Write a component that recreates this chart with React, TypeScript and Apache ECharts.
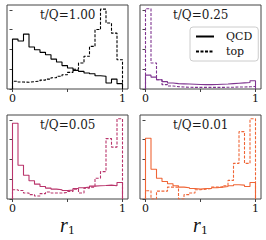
import React, { useEffect, useRef } from 'react';
import * as echarts from 'echarts';

// Histogram values (20 equal bins on [0, 1])
const qcd100 = [2.52, 2.42, 2.77, 2.12, 1.98, 1.85, 1.73, 1.51, 1.36, 1.18, 1.06, 0.94, 0.89, 0.81, 0.77, 0.67, 0.64, 0.3, 0.5, 0.27];
const top100 = [0.39, 0.35, 0.34, 0.37, 0.4, 0.45, 0.5, 0.57, 0.64, 0.72, 0.84, 1.0, 1.31, 1.65, 2.15, 3.0, 4.03, 3.33, 2.82, 1.48];
const qcd025 = [0.7, 0.6, 0.47, 0.37, 0.3, 0.27, 0.26, 0.25, 0.24, 0.23, 0.22, 0.22, 0.23, 0.24, 0.25, 0.27, 0.29, 0.31, 0.33, 0.42];
const top025 = [4.05, 1.31, 0.47, 0.22, 0.15, 0.12, 0.1, 0.09, 0.08, 0.08, 0.08, 0.08, 0.08, 0.08, 0.09, 0.09, 0.1, 0.1, 0.11, 0.13];
const qcd005 = [3.82, 1.7, 1.2, 0.92, 0.75, 0.63, 0.55, 0.5, 0.47, 0.43, 0.45, 0.53, 0.57, 0.6, 0.65, 0.67, 0.68, 0.7, 0.67, 0.83];
const top005 = [0.47, 0.43, 0.3, 0.22, 0.15, 0.27, 0.35, 0.3, 0.3, 0.33, 0.38, 0.5, 0.3, 0.55, 0.6, 1.05, 1.38, 3.05, 2.62, 4.05];
const qcd001 = [3.07, 1.5, 1.05, 0.88, 0.77, 0.67, 0.6, 0.57, 0.53, 0.5, 0.53, 0.53, 0.57, 0.6, 0.63, 0.67, 0.72, 0.7, 0.63, 0.83];
const top001 = [0.42, 0.0, 0.4, 0.4, 0.6, 0.6, 0.0, 0.22, 0.3, 0.47, 0.5, 0.53, 0.6, 0.6, 0.67, 0.94, 1.8, 3.4, 1.8, 4.05];

const panelTitles = ['t/Q=1.00', 't/Q=0.25', 't/Q=0.05', 't/Q=0.01'];
const panelColors = ['#000000', '#7f3590', '#b9346b', '#ef6536'];
const qcdSeries = [qcd100, qcd025, qcd005, qcd001];
const topSeries = [top100, top025, top005, top001];
const xTickValues = [0, 0.5, 1];
const xLabelValues = [0, 1];
const yTickValues = [0, 1, 2, 3, 4];
const legendNames = ['QCD', 'top'];

const SERIF = 'DejaVu Serif';

function stepPoints(vals: number[]): number[][] {
  const w = 1 / vals.length;
  const pts: number[][] = [[0, 0]];
  vals.forEach((v, i) => {
    pts.push([i * w, v]);
    pts.push([(i + 1) * w, v]);
  });
  pts.push([1, 0]);
  return pts;
}

const grids = [
  { left: 7, top: 5, width: 121, height: 84 },
  { left: 140, top: 5, width: 121, height: 84 },
  { left: 7, top: 115, width: 121, height: 84 },
  { left: 140, top: 115, width: 121, height: 84 },
];

export default function App() {
  const ref = useRef<HTMLDivElement>(null);
  useEffect(() => {
    document.body.style.margin = '0';
    const chart = echarts.init(ref.current!, undefined, { renderer: 'svg' });
    const series: any[] = [];
    for (let i = 0; i < 4; i++) {
      const c = panelColors[i];
      series.push({
        type: 'line',
        name: i === 0 ? legendNames[0] : `QCD ${panelTitles[i]}`,
        xAxisIndex: i,
        yAxisIndex: i,
        data: stepPoints(qcdSeries[i]),
        showSymbol: false,
        symbol: 'none',
        color: c,
        lineStyle: { color: c, width: 1.1, type: 'solid' },
        z: 3,
      });
      series.push({
        type: 'line',
        name: i === 0 ? legendNames[1] : `top ${panelTitles[i]}`,
        xAxisIndex: i,
        yAxisIndex: i,
        data: stepPoints(topSeries[i]),
        showSymbol: false,
        symbol: 'none',
        color: c,
        lineStyle: { color: c, width: 1.1, type: [3, 1.5] },
        z: 2,
      });
    }
    const option: any = {
      animation: false,
      backgroundColor: '#ffffff',
      graphic: panelTitles.map((t, i) => ({
        type: 'text',
        z: 10,
        style: {
          x: grids[i].left + 33,
          y: grids[i].top + 10,
          text: t,
          fontFamily: SERIF,
          fontSize: 12,
          fill: '#1a1a1a',
          textAlign: 'left',
          textVerticalAlign: 'middle',
        },
      })),
      grid: grids.map((g) => ({
        ...g,
        show: true,
        borderColor: '#444',
        borderWidth: 1,
        backgroundColor: 'transparent',
        containLabel: false,
      })),
      xAxis: grids.map((_, i) => ({
        type: 'value',
        gridIndex: i,
        min: -0.05,
        max: 1.05,
        axisLine: { show: false },
        splitLine: { show: false },
        axisTick: { show: true, customValues: xTickValues, length: 3, lineStyle: { color: '#444', width: 1 } },
        axisLabel: {
          show: true,
          customValues: xLabelValues,
          formatter: (v: number) => String(v),
          fontFamily: SERIF,
          fontSize: 11,
          color: '#111',
          margin: 4,
        },
        name: i >= 2 ? '{r|r}{s|1}' : '',
        nameLocation: 'middle',
        nameGap: 15,
        nameTextStyle: {
          rich: {
            r: { fontFamily: 'Liberation Serif', fontStyle: 'italic', fontSize: 20, lineHeight: 20, padding: [0, 0, 3, 0], color: '#111' },
            s: { fontFamily: SERIF, fontSize: 11, lineHeight: 12, verticalAlign: 'bottom', color: '#111' },
          },
        },
      })),
      yAxis: grids.map((_, i) => ({
        type: 'value',
        gridIndex: i,
        min: 0,
        max: 4.24,
        axisLine: { show: false },
        splitLine: { show: false },
        axisTick: { show: true, customValues: yTickValues, length: 3, lineStyle: { color: '#444', width: 1 } },
        axisLabel: { show: false },
      })),
      legend: {
        data: legendNames,
        orient: 'vertical',
        left: 190,
        top: 27,
        itemWidth: 18,
        itemHeight: 12,
        itemGap: 4,
        padding: [4, 6, 4, 5],
        backgroundColor: '#ffffff',
        borderColor: '#cccccc',
        borderWidth: 1,
        borderRadius: 3,
        selectedMode: false,
        itemStyle: { color: 'rgba(0,0,0,0)', borderWidth: 0, opacity: 0 },
        textStyle: { fontFamily: SERIF, fontSize: 11, color: '#111', padding: [0, 9, 0, 7] },
      },
      series,
    };
    chart.setOption(option);
    return () => chart.dispose();
  }, []);
  return <div ref={ref} style={{ width: 266, height: 240 }} />;
}
